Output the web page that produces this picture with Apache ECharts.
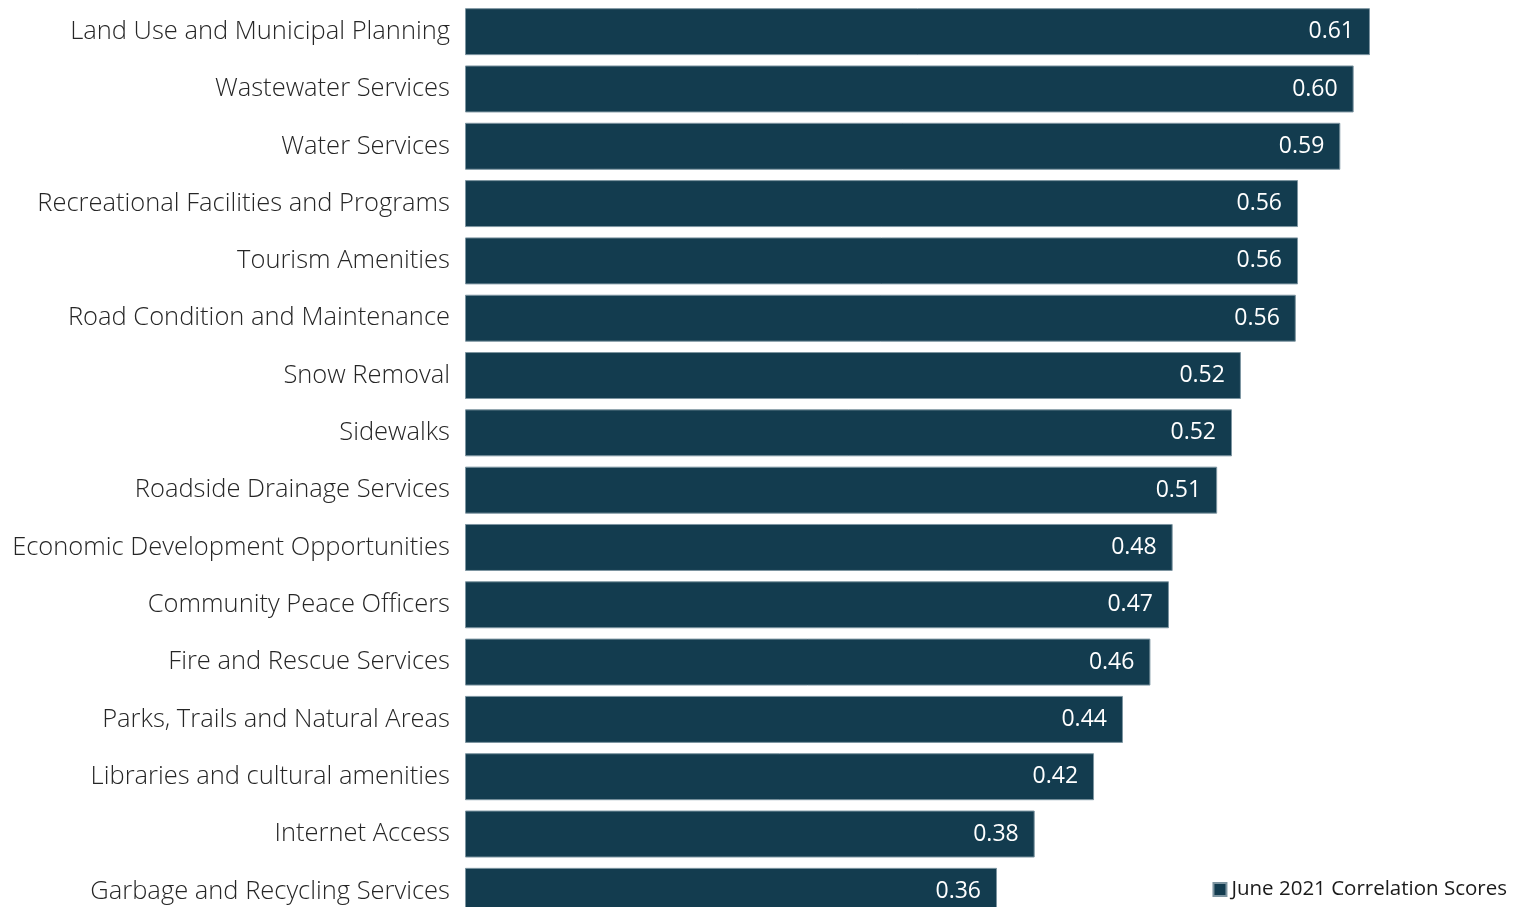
<!DOCTYPE html>
<html>
<head>
<meta charset="utf-8">
<script src="https://cdn.jsdelivr.net/npm/echarts@6/dist/echarts.min.js"></script>
<style>html,body{margin:0;padding:0;background:#fff;overflow:hidden}#c{width:1514px;height:922px}</style>
</head>
<body>
<div id="c"></div>
<script>
const categories = [
  "Land Use and Municipal Planning",
  "Wastewater Services",
  "Water Services",
  "Recreational Facilities and Programs",
  "Tourism Amenities",
  "Road Condition and Maintenance",
  "Snow Removal",
  "Sidewalks",
  "Roadside Drainage Services",
  "Economic Development Opportunities",
  "Community Peace Officers",
  "Fire and Rescue Services",
  "Parks, Trails and Natural Areas",
  "Libraries and cultural amenities",
  "Internet Access",
  "Garbage and Recycling Services"
];
const scores = [0.610, 0.599, 0.590, 0.5615, 0.5615, 0.560, 0.523, 0.517, 0.507, 0.477, 0.4745, 0.462, 0.4435, 0.424, 0.384, 0.3586];
const seriesName = "June 2021 Correlation Scores";

const chart = echarts.init(document.getElementById('c'), null, {renderer: 'canvas'});
chart.setOption({
  animation: false,
  grid: {left: 465, top: 3, right: 10.5, bottom: 2, containLabel: false},
  xAxis: {type: 'value', min: 0, max: 0.7, show: false},
  yAxis: {
    type: 'category', data: categories, inverse: true,
    axisLine: {show: false}, axisTick: {show: false},
    axisLabel: {fontFamily: 'Open Sans', fontSize: 25.5, fontWeight: 300, color: '#262626', margin: 15, padding: [5, 0, 0, 0]}
  },
  legend: {
    show: true, right: 2, top: 874, itemWidth: 13, itemHeight: 13, itemGap: 5,
    icon: 'rect',
    textStyle: {fontFamily: 'Open Sans', fontSize: 20.5, color: '#1a1a1a'},
    data: [seriesName]
  },
  series: [{
    name: seriesName, type: 'bar', data: scores, barCategoryGap: '18%',
    itemStyle: {color: '#133c4f', borderColor: '#7d95a1', borderWidth: 1},
    label: {
      show: true, position: 'insideRight', distance: 16, color: '#ffffff',
      fontFamily: 'Open Sans', fontSize: 23, padding: [5, 0, 0, 0],
      formatter: p => p.value.toFixed(2)
    }
  }]
});
</script>
</body>
</html>
